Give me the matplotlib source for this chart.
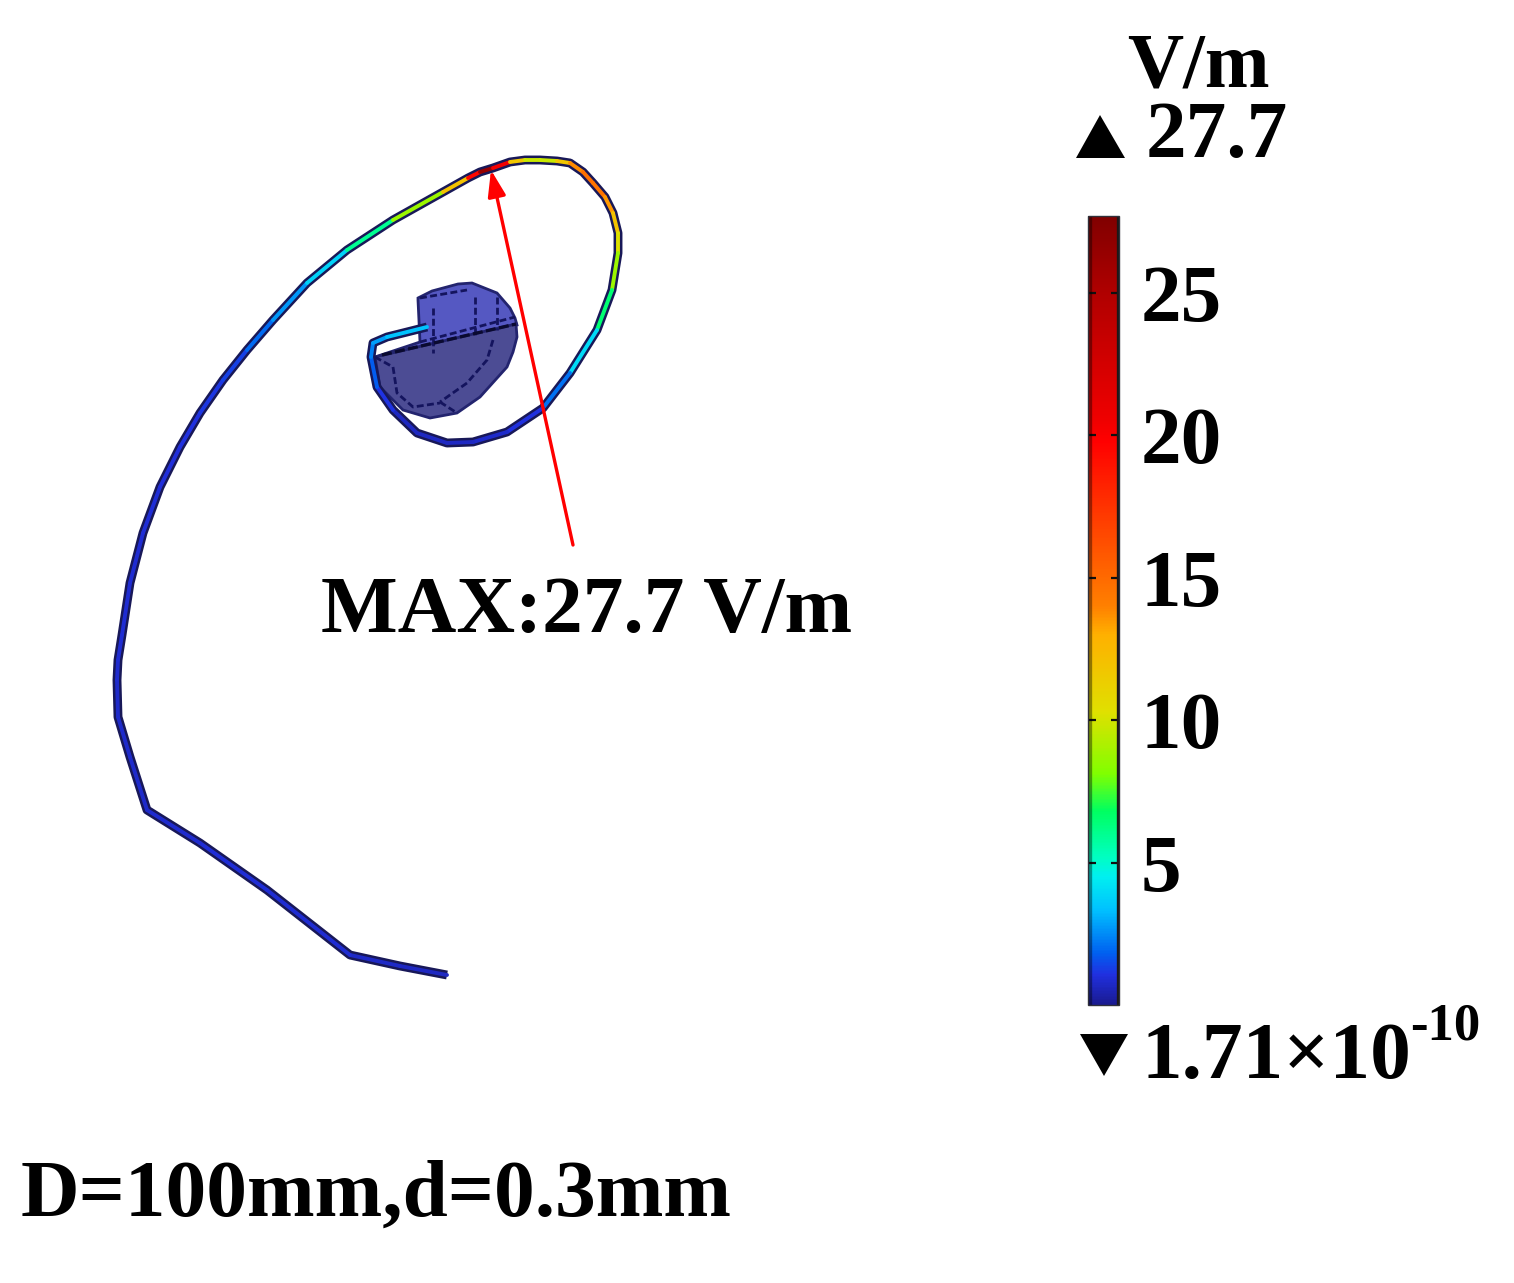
import numpy as np
import matplotlib
matplotlib.use("Agg")
import matplotlib.pyplot as plt
from matplotlib.collections import LineCollection
from matplotlib.cm import ScalarMappable
from matplotlib.colors import Normalize, LinearSegmentedColormap
from matplotlib.patches import Polygon

W, H = 1514, 1283
plt.rcParams['font.family'] = ['Liberation Serif', 'DejaVu Serif']
plt.rcParams['font.weight'] = 'bold'

# Wire path (image pixels) and field strength along it (V/m)
wire_x = [447, 400, 350, 267, 200, 147, 130, 118, 117, 118, 122, 130, 143, 160, 180, 200, 223, 247,
          273, 307, 347, 393, 443, 468, 480, 493, 510, 525, 540, 557, 570, 583, 593, 605, 613, 618, 618, 612,
          597, 570, 543, 507, 473, 447, 417, 393, 377, 371, 373, 387, 427]
wire_y = [975, 966, 955, 890, 843, 810, 757, 717, 680, 660, 635, 583, 533, 487, 447, 413, 380, 350,
          320, 283, 250, 220, 192, 178, 172, 168, 162, 160, 160, 161, 163, 172, 183, 197, 213, 233, 253, 290,
          330, 373, 408, 432, 442, 443, 433, 410, 387, 357, 343, 337, 327]
wire_e = [0.6, 0.7, 0.8, 1.0, 0.9, 0.8, 0.8, 0.8, 0.8, 0.9, 0.9, 0.9, 0.9, 1.0, 1.0, 1.1, 1.2, 1.5,
          2.4, 3.0, 4.5, 7.5, 10.0, 14.0, 25.0, 27.7, 13.0, 10.5, 9.0, 10.5, 13.0, 14.5, 15.0, 14.0, 13.0, 11.0, 9.5, 8.0,
          5.0, 3.0, 1.2, 0.9, 0.7, 0.6, 0.7, 0.7, 1.5, 2.0, 2.6, 3.0, 3.8]

# Device outlines (image pixels)
back_x = [418, 432, 458, 472, 497, 510, 515, 517, 375, 420, 418]
back_y = [298, 291, 284, 283, 293, 308, 318, 325, 357, 342, 300]
front_x = [375, 516, 517, 513, 507, 480, 457, 430, 403, 380, 375]
front_y = [357, 324, 337, 352, 367, 397, 413, 418, 410, 387, 357]
mesh = [
    ([433, 433], [308, 353]),
    ([475, 475], [297, 337]),
    ([497, 497], [297, 330]),
    ([420, 515], [342, 317]),
    ([420, 467], [298, 290]),
    ([375, 393], [357, 367]),
    ([393, 397, 413, 440], [367, 393, 407, 403]),
    ([493, 487, 467, 440], [340, 360, 383, 402]),
    ([440, 457], [402, 413]),
]
front_edge_x = [382, 516]
front_edge_y = [355, 324]

# Annotation
arrow_start = (573, 545)
arrow_end = (491, 170)
max_label = "MAX:27.7 V/m"
case_label = "D=100mm,d=0.3mm"

# Colour scale
vmin, vmax = 1.71e-10, 27.7
cmap_values = [0, 1.05, 1.8, 3.3, 4.5, 5.2, 6.8, 8.1, 10.3, 13.0, 14.0, 19.8, 20.5, 25.0, 27.7]
cmap_colors = ['#1a1a90', '#2030e0', '#0060f0', '#00c0ff', '#00f0f0', '#00ffc0', '#00ff60', '#80ff00',
               '#e0e000', '#ffb000', '#ff8000', '#ff0000', '#f00000', '#b00000', '#800000']
cbar_ticks = [5, 10, 15, 20, 25]
unit_label = "V/m"
max_value_label = "27.7"
min_value_label = "1.71×10"
min_exp_label = "-10"

fig = plt.figure(figsize=(W / 100, H / 100), dpi=100, facecolor='white')
ax = fig.add_axes([0, 0, 1, 1])
ax.set_xlim(0, W)
ax.set_ylim(H, 0)
ax.axis('off')

cmap = LinearSegmentedColormap.from_list(
    'field', list(zip(np.array(cmap_values) / cmap_values[-1], cmap_colors)), N=512)
norm = Normalize(vmin, vmax)

# Device
ax.add_patch(Polygon(np.column_stack([back_x, back_y]), closed=True, fc='#5558c2', ec='#23246e', lw=2.0, zorder=2))
ax.add_patch(Polygon(np.column_stack([front_x, front_y]), closed=True, fc='#4c4c94', ec='#23246e', lw=2.0, zorder=2))
for mx, my in mesh:
    ax.plot(mx, my, color='#14145e', lw=2.0, ls=(0, (2.5, 1.2)), zorder=3)
ax.plot(front_edge_x, front_edge_y, color='#0a0a30', lw=2.4, ls=(0, (3, 1)), zorder=3)

# Wire
pts = np.column_stack([wire_x, wire_y])
ax.plot(wire_x, wire_y, color='#181858', lw=6.4, solid_joinstyle='round', solid_capstyle='butt', zorder=4)
segs = np.stack([pts[:-1], pts[1:]], axis=1)
vals = 0.5 * (np.array(wire_e[:-1]) + np.array(wire_e[1:]))
lc = LineCollection(segs, cmap=cmap, norm=norm, linewidths=2.8, capstyle='round', zorder=5)
lc.set_array(vals)
ax.add_collection(lc)

# Arrow
ax.annotate('', xy=arrow_end, xytext=arrow_start,
            arrowprops=dict(arrowstyle='-|>,head_length=0.53,head_width=0.18', color='#ff0000', lw=2.4,
                            mutation_scale=30, shrinkA=0, shrinkB=0), zorder=6)

# Texts
fs = 58.5
ax.text(321, 632, max_label, fontsize=fs, va='baseline', ha='left', color='black')
ax.text(21, 1216, case_label, fontsize=fs, va='baseline', ha='left', color='black')
ax.text(1127, 87, unit_label, fontsize=56, va='baseline', ha='left', color='black')
ax.text(1146, 157, max_value_label, fontsize=fs, va='baseline', ha='left', color='black')
ax.text(1142, 1078, min_value_label, fontsize=fs, va='baseline', ha='left', color='black')
ax.text(1410, 1040, min_exp_label, fontsize=38, va='baseline', ha='left', color='black')

# Range markers
ax.add_patch(Polygon([(1076, 158), (1125, 158), (1100, 115)], closed=True, fc='black', ec='none'))
ax.add_patch(Polygon([(1080, 1034), (1128, 1034), (1104, 1076)], closed=True, fc='black', ec='none'))

# Colour bar
cax = fig.add_axes([1088 / W, 1 - 1005 / H, 31 / W, 789 / H])
cb = fig.colorbar(ScalarMappable(norm=norm, cmap=cmap), cax=cax)
cb.set_ticks(cbar_ticks)
cb.outline.set_edgecolor('#30303a')
cb.outline.set_linewidth(1.0)
cax.axvline(0.96, color='#1c1818', lw=2.4)
cax.axvline(0.05, color='black', alpha=0.4, lw=2.4)
cax.yaxis.set_ticks_position('both')
cax.tick_params(axis='y', direction='in', length=5.5, width=1.6, color='#101010',
                labelleft=False, labelright=True, labelsize=fs, pad=15.5)
for t in cax.get_yticklabels():
    t.set_fontweight('bold')

fig.savefig('out.png', dpi=100)
